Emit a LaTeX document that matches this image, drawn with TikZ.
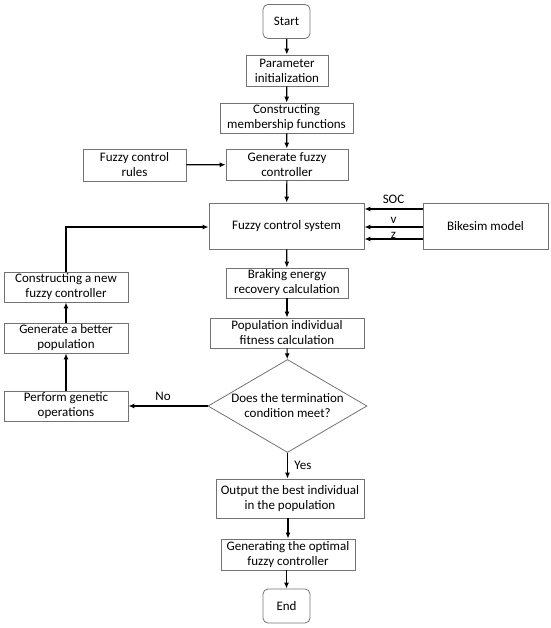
\documentclass[tikz,border=0pt]{standalone}
\usepackage{fontspec}
\setmainfont{Carlito}
\usetikzlibrary{arrows.meta, shapes.geometric, positioning}
\tikzset{
  box/.style={draw=black!55, line width=0.8pt, align=center, inner sep=1pt,
    font=\fontsize{13}{15}\selectfont},
  term/.style={box, rounded corners=5pt, minimum width=47, minimum height=34},
  decision/.style={diamond, draw=black!55, line width=0.8pt, inner sep=0pt,
    minimum width=159, minimum height=93},
  arrow/.style={-{Latex[length=6pt,width=5pt]}, line width=1.2pt},
  lbl/.style={font=\fontsize{13}{15}\selectfont},
}
\begin{document}
\begin{tikzpicture}[x=1pt, y=-1pt]
  \useasboundingbox (0,0) rectangle (550,628);
  % main column
  \node[term] (start) at (286.5,21.5) {Start};
  \node[box, minimum width=82, minimum height=31] (init) at (287,70.5) {Parameter\\initialization};
  \node[box, minimum width=133, minimum height=30] (member) at (286.5,118) {Constructing\\membership functions};
  \node[box, minimum width=122, minimum height=31] (gen) at (287,164.5) {Generate fuzzy\\controller};
  \node[box, minimum width=103, minimum height=32] (rules) at (134.5,165) {Fuzzy control\\rules};
  \node[box, minimum width=155, minimum height=46] (fcs) at (286.5,226) {Fuzzy control system};
  \node[box, minimum width=125, minimum height=46] (bike) at (485.5,226) {Bikesim model};
  \node[box, minimum width=122, minimum height=30] (brake) at (287,283) {Braking energy\\recovery calculation};
  \node[box, minimum width=154, minimum height=30] (fit) at (287,333) {Population individual\\fitness calculation};
  \node[decision] (check) at (287.5,406) {};
  \node[lbl, align=center] (checktext) at (check) {Does the termination\\condition meet?};
  \node[box, minimum width=148, minimum height=39] (output) at (290,498.5) {Output the best individual\\in the population};
  \node[box, minimum width=134, minimum height=31] (optimal) at (288,554.5) {Generating the optimal\\fuzzy controller};
  \node[term] (end) at (286.5,606) {End};
  % feedback column
  \node[box, minimum width=124, minimum height=30] (genetic) at (66,406) {Perform genetic\\operations};
  \node[box, minimum width=124, minimum height=30] (better) at (66,338) {Generate a better\\population};
  \node[box, minimum width=124, minimum height=30] (newfc) at (66,287) {Constructing a new\\fuzzy controller};

  \draw[arrow] (start) -- (init);
  \draw[arrow] (init) -- (member);
  \draw[arrow] (member) -- (gen);
  \draw[arrow] (rules) -- (gen);
  \draw[arrow] (gen) -- (fcs);
  \draw[arrow] ([yshift=17pt]bike.west) -- ([yshift=17pt]fcs.east) node[lbl, midway, yshift=10pt] {SOC};
  \draw[arrow] ([yshift=-1pt]bike.west) -- ([yshift=-1pt]fcs.east) node[lbl, midway, yshift=7pt] {v};
  \draw[arrow] ([yshift=-13pt]bike.west) -- ([yshift=-13pt]fcs.east) node[lbl, midway, yshift=4pt] {z};
  \draw[arrow] (fcs) -- (brake);
  \draw[arrow] (brake) -- (fit);
  \draw[arrow] (fit) -- (check);
  \draw[arrow] (check.south) -- (check.south |- output.north) node[lbl, midway, right=3pt] {Yes};
  \draw[arrow] (check.west) -- (genetic.east) node[lbl, midway, yshift=10pt, xshift=-5pt] {No};
  \draw[arrow] (genetic) -- (better);
  \draw[arrow] (better) -- (newfc);
  \draw[arrow] (newfc.north) |- ([yshift=-1pt]fcs.west);
  \draw[arrow] (output.south -| optimal.north) -- (optimal);
  \draw[arrow] (optimal.south -| end.north) -- (end);
\end{tikzpicture}
\end{document}
